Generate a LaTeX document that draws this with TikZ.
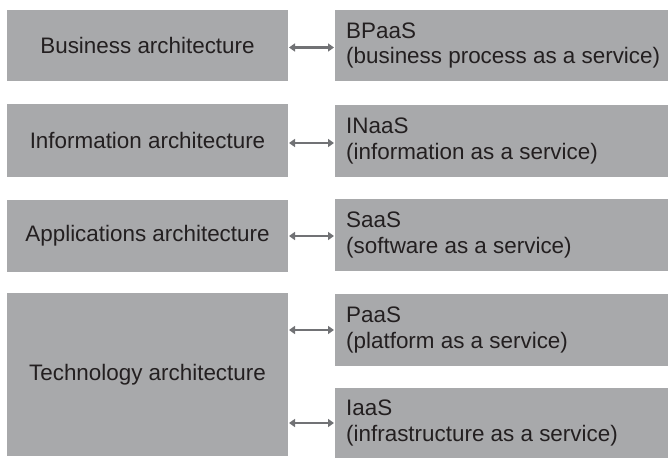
\documentclass[tikz,border=0pt]{standalone}
\usepackage{fontspec}
\setmainfont{Liberation Sans}
\usetikzlibrary{arrows.meta}
\definecolor{boxgray}{HTML}{A8A9AB}
\definecolor{txt}{HTML}{231F20}
\definecolor{arrgray}{HTML}{717275}
\tikzset{
  lbox/.style={fill=boxgray, draw=none, inner sep=0pt, outer sep=0pt, anchor=north west,
    minimum width=281bp, text=txt, font=\fontsize{22.5}{25.5}\selectfont},
  rbox/.style={fill=boxgray, draw=none, inner sep=0pt, outer sep=0pt, anchor=north west,
    minimum width=333bp},
  rtext/.style={anchor=west, inner sep=0pt, align=left, text=txt, font=\fontsize{22.5}{25.5}\selectfont},
  link/.style={draw=arrgray, line width=2.8bp, {Triangle[length=6bp,width=8bp]}-{Triangle[length=6bp,width=8bp]}, shorten <=1bp, shorten >=1bp}
}
\begin{document}
\begin{tikzpicture}[x=1bp,y=-1bp]
\useasboundingbox (0,0) rectangle (670,458);
\node[lbox, minimum height=71bp] (lb1) at (7,10) {Business architecture};
\node[lbox, minimum height=73bp] (lb2) at (7,104) {Information architecture};
\node[lbox, minimum height=72bp] (lb3) at (7,200) {Applications architecture};
\node[lbox, minimum height=163bp] (lb4) at (7,293) {Technology architecture};
\node[rbox, minimum height=71bp] (rb1) at (335,10) {};
\node[rbox, minimum height=72bp] (rb2) at (335,105) {};
\node[rbox, minimum height=72bp] (rb3) at (335,199) {};
\node[rbox, minimum height=72bp] (rb4) at (335,294) {};
\node[rbox, minimum height=70bp] (rb5) at (335,388) {};
\node[rtext] (t1) at ([xshift=11bp]rb1.west) {BPaaS\\(business process as a service)};
\node[rtext] (t2) at ([xshift=11bp]rb2.west) {INaaS\\(information as a service)};
\node[rtext] (t3) at ([xshift=11bp]rb3.west) {SaaS\\(software as a service)};
\node[rtext] (t4) at ([xshift=11bp]rb4.west) {PaaS\\(platform as a service)};
\node[rtext] (t5) at ([xshift=11bp]rb5.west) {IaaS\\(infrastructure as a service)};
\draw[link] ([yshift=-2bp]lb1.east |- rb1.west) -- ([yshift=-2bp]rb1.west);
\draw[link] ([yshift=-2bp]lb2.east |- rb2.west) -- ([yshift=-2bp]rb2.west);
\draw[link] ([yshift=-1bp]lb3.east |- rb3.west) -- ([yshift=-1bp]rb3.west);
\draw[link] (lb4.east |- rb4.west) -- (rb4.west);
\draw[link] (lb4.east |- rb5.west) -- (rb5.west);
\end{tikzpicture}
\end{document}
